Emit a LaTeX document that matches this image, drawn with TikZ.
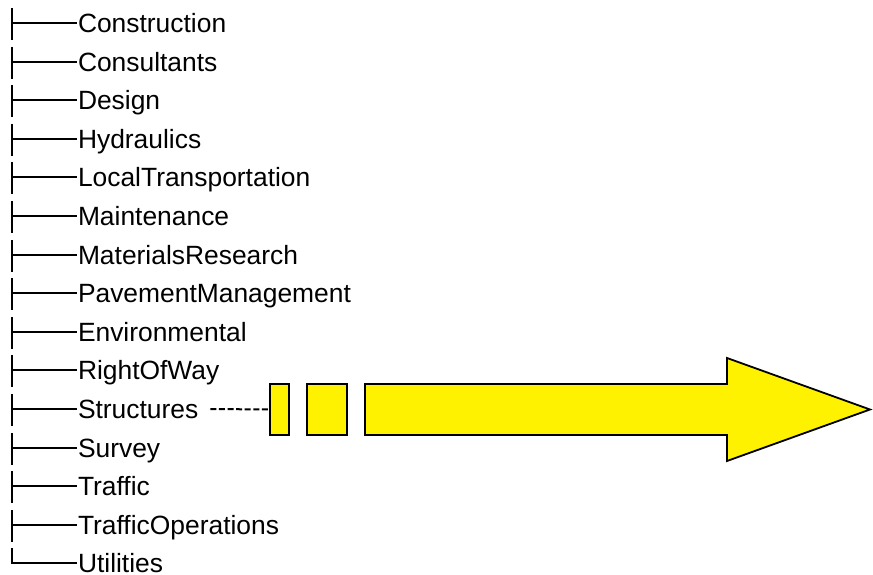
\documentclass[tikz,border=0pt]{standalone}
\usepackage{fontspec}
\setmainfont{Liberation Sans}
\usetikzlibrary{math}

\begin{document}
\begin{tikzpicture}[x=1pt, y=-1pt, line width=2pt,
  leaf/.style={anchor=west, inner sep=0pt, text height=18.9pt, text depth=0pt,
    font=\fontsize{26.4}{30}\selectfont},
  blk/.style={draw=black, fill=yellow, line width=1.8pt, inner sep=0pt, minimum height=51pt}]
  \tikzmath{\h = 38.6;}
  \tikzmath{\t = 23;}

  \useasboundingbox (0,0) rectangle (873,575);

  % tree of folders
  \foreach \name [count=\i] in {Construction, Consultants, Design, Hydraulics,
      LocalTransportation, Maintenance, MaterialsResearch, PavementManagement,
      Environmental, RightOfWay, Structures, Survey, Traffic, TrafficOperations, Utilities} {
    \tikzmath{\c = round(\t + (\i-1)*\h);}
    \node[leaf] (leaf\i) at (77,\c) {\name};
    \coordinate (fork\i) at (12,\c);
    \draw (fork\i) -- (leaf\i.west);
    \ifnum\i<15
      \draw (12,\c-15) -- (12,\c+17);
    \else
      \draw (12,\c-15) -- ([yshift=-1pt]fork\i);
    \fi
  }

  % blocks and big arrow
  \node[blk, minimum width=19pt] (blk1) at (279.5,409.5) {};
  \node[blk, minimum width=40pt] (blk2) at (327,409.5) {};
  \draw[blk, line join=miter] (365,384) -- (727,384) -- (727,358) -- (870,409.5)
    -- (727,461) -- (727,435) -- (365,435) -- cycle;

  % dashes from structures
  \draw[dash pattern=on 6pt off 2.6pt] ([xshift=11pt]leaf11.east) -- (blk1.west);
\end{tikzpicture}
\end{document}
